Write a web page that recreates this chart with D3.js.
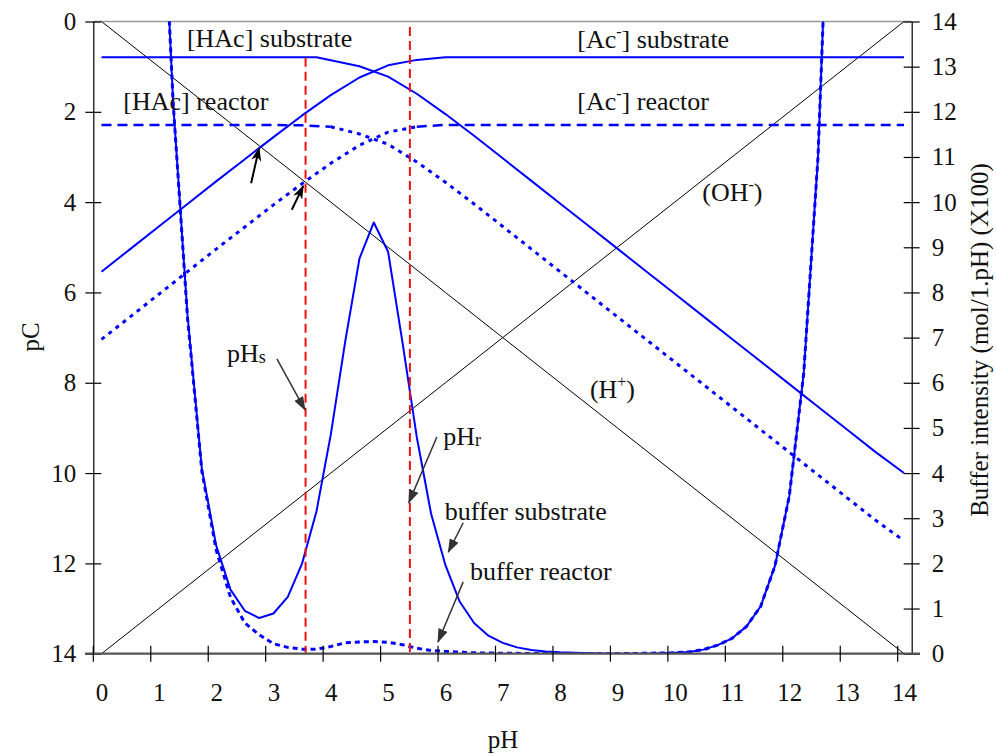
<!DOCTYPE html>
<html>
<head>
<meta charset="utf-8">
<script src="https://cdn.jsdelivr.net/npm/d3@7"></script>
<style>
  body { margin: 0; background: #fff; }
  svg text { font-family: "Liberation Serif", "Times New Roman", serif; fill: #111; }
</style>
</head>
<body>
<svg id="chart" width="996" height="754"></svg>
<script>
// ---- axis ticks ----
const pHTicks = [0, 1, 2, 3, 4, 5, 6, 7, 8, 9, 10, 11, 12, 13, 14];
const pCTicks = [0, 2, 4, 6, 8, 10, 12, 14];
const bufferTicks = [0, 1, 2, 3, 4, 5, 6, 7, 8, 9, 10, 11, 12, 13, 14];

// ---- species concentrations, [pH, pC] ----
const hIon = [[0,0],[1,1],[2,2],[3,3],[4,4],[5,5],[6,6],[7,7],[8,8],[9,9],[10,10],[11,11],[12,12],[13,13],[14,14]];
const ohIon = [[0,14],[1,13],[2,12],[3,11],[4,10],[5,9],[6,8],[7,7],[8,6],[9,5],[10,4],[11,3],[12,2],[13,1],[14,0]];

const hacSubstrate = [[0,0.79],[0.5,0.79],[1,0.79],[1.5,0.79],[2,0.79],[2.5,0.79],[3,0.79],[3.5,0.79],[3.75,0.79],
  [4,0.86],[4.5,0.99],[5,1.22],[5.5,1.6],[6,2.05],[6.5,2.53],[7,3.03],[7.5,3.53],[8,4.03],[8.5,4.53],[9,5.03],
  [9.5,5.53],[10,6.03],[10.5,6.53],[11,7.03],[11.5,7.53],[12,8.03],[12.5,8.53],[13,9.03],[13.5,9.53],[14,10.0]];
const acSubstrate = [[0,5.54],[0.5,5.04],[1,4.54],[1.5,4.04],[2,3.54],[2.5,3.05],[3,2.56],[3.5,2.08],[4,1.63],
  [4.5,1.24],[5,0.97],[5.5,0.85],[6,0.79],[7,0.79],[8,0.79],[9,0.79],[10,0.79],[11,0.79],[12,0.79],[13,0.79],[14,0.79]];

const hacReactorFlat = [[0,2.29],[1,2.29],[2,2.29],[3,2.29],[3.5,2.30],[4,2.33]];
const hacReactorSlope = [[4,2.33],[4.5,2.49],[5,2.72],[5.5,3.11],[6,3.56],[6.5,4.04],[7,4.54],[7.5,5.04],[8,5.54],
  [8.5,6.04],[9,6.54],[9.5,7.04],[10,7.54],[10.5,8.04],[11,8.54],[11.5,9.04],[12,9.54],[12.5,10.04],[13,10.54],
  [13.5,11.04],[14,11.5]];
const acReactorSlope = [[0,7.04],[0.5,6.54],[1,6.04],[1.5,5.54],[2,5.04],[2.5,4.55],[3,4.06],[3.5,3.59],[4,3.14],
  [4.5,2.74],[5,2.45],[5.5,2.33]];
const acReactorFlat = [[5.5,2.33],[6,2.29],[7,2.29],[8,2.29],[9,2.29],[10,2.29],[11,2.29],[12,2.29],[13,2.29],[14,2.29]];

// ---- buffer intensity (mol/l.pH x100), [pH, beta] ----
const bufferSubstrate = [[1,19],[1.25,12.2],[1.5,7.5],[1.75,4.1],[2,2.4],[2.25,1.42],[2.5,0.95],[2.75,0.79],
  [3,0.89],[3.25,1.26],[3.5,2.0],[3.75,3.15],[4,4.85],[4.25,6.9],[4.5,8.75],[4.75,9.55],[5,8.9],[5.25,6.9],
  [5.5,4.8],[5.75,3.1],[6,1.96],[6.25,1.15],[6.5,0.68],[6.75,0.4],[7,0.24],[7.25,0.14],[7.5,0.08],[7.75,0.05],
  [8,0.03],[8.5,0.01],[9,0],[9.5,0],[10,0.02],[10.25,0.04],[10.5,0.09],[10.75,0.19],[11,0.34],[11.25,0.6],
  [11.5,1.05],[11.75,1.95],[12,3.5],[12.25,6.2],[12.5,11.0],[12.75,19.5]];
const bufferReactor = [[1,19],[1.25,12.2],[1.5,7.45],[1.75,4.05],[2,2.3],[2.25,1.25],[2.5,0.68],[2.75,0.42],
  [3,0.22],[3.25,0.14],[3.5,0.1],[3.75,0.1],[4,0.16],[4.25,0.24],[4.5,0.26],[4.75,0.27],[5,0.25],[5.25,0.2],
  [5.5,0.12],[5.75,0.07],[6,0.05],[6.5,0.02],[7,0.01],[8,0],[9,0],[10,0.02],[10.25,0.04],[10.5,0.09],[10.75,0.19],
  [11,0.34],[11.25,0.6],[11.5,1.05],[11.75,1.95],[12,3.5],[12.25,6.2],[12.5,11.0],[12.75,19.5]];

// ---- marked pH values: [pH, top pC] ----
const pHsLine = [3.56, 0.8];
const pHrLine = [5.38, 0.12];

// ---- annotations ----
const labels = [
  { parts: [["[HAc] substrate"]], pH: 1.49, pC: 0.56 },
  { parts: [["[Ac"], ["-", "sup"], ["] substrate"]], pH: 8.30, pC: 0.59 },
  { parts: [["[HAc] reactor"]], pH: 0.38, pC: 1.96 },
  { parts: [["[Ac"], ["-", "sup"], ["] reactor"]], pH: 8.30, pC: 1.96 },
  { parts: [["(OH"], ["-", "sup"], [")"]], pH: 10.48, pC: 3.97 },
  { parts: [["(H"], ["+", "sup"], [")"]], pH: 8.52, pC: 8.34 },
  { parts: [["pH"], ["s", "sub"]], pH: 2.19, pC: 7.54 },
  { parts: [["pH"], ["r", "sub"]], pH: 5.96, pC: 9.38 },
  { parts: [["buffer substrate"]], pH: 5.99, pC: 11.04 },
  { parts: [["buffer reactor"]], pH: 6.43, pC: 12.37 }
];
// arrows: [tail pH, tail pC, tip pH, tip pC, style]
const arrows = [
  [2.61, 3.58, 2.75, 2.80, "black"],
  [3.32, 4.17, 3.52, 3.64, "black"],
  [3.06, 7.47, 3.55, 8.60, "grey"],
  [5.85, 9.20, 5.36, 10.66, "grey"],
  [6.31, 11.10, 6.05, 11.75, "grey"],
  [6.31, 12.41, 5.87, 13.74, "grey"]
];

const svg = d3.select("#chart");
const plotLeft = 93.3, plotRight = 911.7, plotTop = 21.5, plotBottom = 653.7;
const serif = "Liberation Serif, Times New Roman, serif";

const x = d3.scaleLinear().domain([0, 14]).range([101.5, 904]);
const xTick = d3.scaleLinear().domain([0, 14]).range([93.3, 897.7]);
const y = d3.scaleLinear().domain([0, 14]).range([plotTop, plotBottom]);      // pC, downward
const yb = d3.scaleLinear().domain([0, 14]).range([plotBottom, plotTop]);     // buffer, upward

const defs = svg.append("defs");
defs.append("clipPath").attr("id", "plotClip")
  .append("rect").attr("x", plotLeft).attr("y", plotTop)
  .attr("width", plotRight - plotLeft).attr("height", plotBottom - plotTop);

defs.append("marker").attr("id", "headBlack").attr("viewBox", "0 0 14 10")
  .attr("refX", 13).attr("refY", 5).attr("markerWidth", 14).attr("markerHeight", 10)
  .attr("markerUnits", "userSpaceOnUse").attr("orient", "auto")
  .append("path").attr("d", "M0,0 L14,5 L0,10 L4,5 Z").attr("fill", "#000");
defs.append("marker").attr("id", "headGrey").attr("viewBox", "0 0 14 10")
  .attr("refX", 13).attr("refY", 5).attr("markerWidth", 14).attr("markerHeight", 10)
  .attr("markerUnits", "userSpaceOnUse").attr("orient", "auto")
  .append("path").attr("d", "M0,0 L14,5 L0,10 Z").attr("fill", "#333");

// top frame line
svg.append("line").attr("x1", plotLeft).attr("x2", plotRight).attr("y1", plotTop).attr("y2", plotTop)
  .attr("stroke", "#999").attr("stroke-width", 1.5);

const plot = svg.append("g").attr("clip-path", "url(#plotClip)");

const linePC = d3.line().x(d => x(d[0])).y(d => y(d[1]));
const lineB = d3.line().x(d => x(d[0])).y(d => yb(d[1]));

function draw(gen, data, color, width, dash) {
  plot.append("path").datum(data).attr("d", gen)
    .attr("fill", "none").attr("stroke", color).attr("stroke-width", width)
    .attr("stroke-dasharray", dash || null).attr("stroke-linejoin", "round");
}

draw(linePC, hIon, "#000", 1);
draw(linePC, ohIon, "#000", 1);

draw(linePC, hacReactorFlat, "#0000ff", 2.5, "10,6");
draw(linePC, acReactorFlat, "#0000ff", 2.5, "10,6");
draw(linePC, hacReactorSlope, "#0000ff", 3, "4,5");
draw(linePC, acReactorSlope, "#0000ff", 3, "4,5");
draw(lineB, bufferReactor, "#0000ff", 3, "5,4");

draw(linePC, hacSubstrate, "#0000ff", 2);
draw(linePC, acSubstrate, "#0000ff", 2);
draw(lineB, bufferSubstrate, "#0000ff", 2);

// marked pH lines
[pHsLine, pHrLine].forEach(d => {
  plot.append("line").attr("x1", x(d[0])).attr("x2", x(d[0]))
    .attr("y1", y(d[1])).attr("y2", y(14))
    .attr("stroke", "#ee1111").attr("stroke-width", 2).attr("stroke-dasharray", "9,5");
});

// axes
const yAxisL = svg.append("g").attr("transform", `translate(${plotLeft},0)`)
  .call(d3.axisLeft(y).tickValues(pCTicks).tickSize(8).tickSizeOuter(0).tickPadding(9));
const yAxisR = svg.append("g").attr("transform", `translate(${plotRight},0)`)
  .call(d3.axisRight(yb).tickValues(bufferTicks).tickSize(8).tickSizeOuter(0).tickPadding(12));
[yAxisL, yAxisR].forEach(g => {
  g.attr("font-family", serif).attr("font-size", 25);
  g.select(".domain").attr("stroke", "#000").attr("stroke-width", 1.2);
  g.selectAll(".tick line").attr("x1", -8).attr("x2", 8).attr("stroke", "#000").attr("stroke-width", 1.2);
  g.selectAll(".tick text").attr("fill", "#111");
});

const xAxis = svg.append("g").attr("transform", `translate(0,${plotBottom})`)
  .call(d3.axisBottom(x).tickValues(pHTicks).tickSize(0).tickPadding(30));
xAxis.attr("font-family", serif).attr("font-size", 25);
xAxis.select(".domain").remove();
xAxis.selectAll(".tick text").attr("fill", "#111");

svg.append("line").attr("x1", 85).attr("x2", 920).attr("y1", plotBottom).attr("y2", plotBottom)
  .attr("stroke", "#555").attr("stroke-width", 2.2);
svg.append("g").selectAll("line").data(pHTicks).join("line")
  .attr("x1", d => xTick(d)).attr("x2", d => xTick(d))
  .attr("y1", plotBottom - 8).attr("y2", plotBottom + 8)
  .attr("stroke", "#000").attr("stroke-width", 1.2);

// axis titles
svg.append("text").attr("transform", "translate(39,337) rotate(-90)")
  .attr("text-anchor", "middle").attr("font-size", 25).text("pC");
svg.append("text").attr("x", 503).attr("y", 748)
  .attr("text-anchor", "middle").attr("font-size", 25).text("pH");
svg.append("text").attr("transform", "translate(988,340) rotate(-90)")
  .attr("text-anchor", "middle").attr("font-size", 25).text("Buffer intensity (mol/1.pH) (X100)");

// annotation labels (super/subscripts shift the baseline, the next part restores it)
labels.forEach(l => {
  const t = svg.append("text").attr("x", x(l.pH)).attr("y", y(l.pC)).attr("font-size", 26);
  let restore = 0;
  l.parts.forEach(p => {
    const span = t.append("tspan").text(p[0]);
    if (p[1] === "sup") {
      span.attr("font-size", 16).attr("dy", restore - 11);
      restore = 11;
    } else if (p[1] === "sub") {
      span.attr("font-size", 18).attr("dy", restore + 1);
      restore = -1;
    } else {
      if (restore) span.attr("dy", restore);
      restore = 0;
    }
  });
});

// arrows
svg.append("g").selectAll("line").data(arrows).join("line")
  .attr("x1", d => x(d[0])).attr("y1", d => y(d[1]))
  .attr("x2", d => x(d[2])).attr("y2", d => y(d[3]))
  .attr("stroke", d => d[4] === "black" ? "#000" : "#333")
  .attr("stroke-width", d => d[4] === "black" ? 2 : 1.5)
  .attr("marker-end", d => d[4] === "black" ? "url(#headBlack)" : "url(#headGrey)");
</script>
</body>
</html>
